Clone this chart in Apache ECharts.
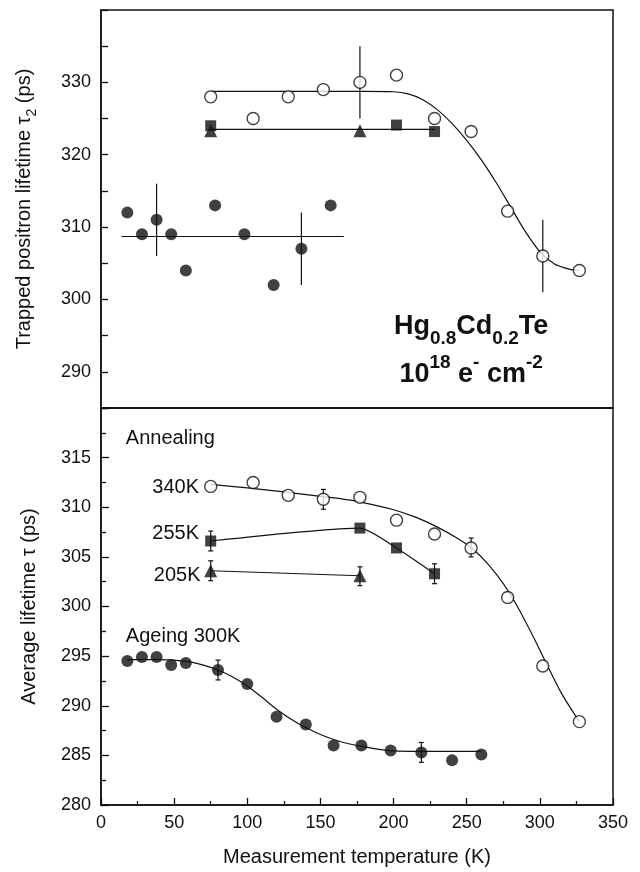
<!DOCTYPE html>
<html>
<head>
<meta charset="utf-8">
<script src="https://cdn.jsdelivr.net/npm/echarts@6/dist/echarts.min.js"></script>
<style>
  html, body { margin: 0; padding: 0; background: #ffffff; }
  #chart { width: 640px; height: 872px; }
</style>
</head>
<body>
<div id="chart"></div>
<script>
// ---- Upper panel: trapped positron lifetime tau2 (ps) ----
const tempAnneal340 = [75, 104, 128, 152, 177, 202, 228, 253, 278, 302, 327];
const tau2Anneal340 = [328.0, 325.0, 328.0, 329.0, 330.0, 331.0, 325.0, 323.2, 312.2, 306.0, 304.0];
const tempTau2Anneal255 = [75, 202, 228];
const tau2Anneal255 = [324.0, 324.1, 323.2];
const tempTau2Anneal205 = [75, 177];
const tau2Anneal205 = [323.3, 323.3];
const tempTau2Ageing = [18, 28, 38, 48, 58, 78, 98, 118, 137, 157];
const tau2Ageing = [312.0, 309.0, 311.0, 309.0, 304.0, 313.0, 309.0, 302.0, 307.0, 313.0];

// fitted guide lines, upper panel
const tau2Fit340Temp = [75, 110, 145, 180, 200, 210, 220, 230, 240, 250, 260, 270, 280, 290, 300, 310, 320, 327];
const tau2Fit340 = [328.75, 328.75, 328.75, 328.75, 328.7, 328.4, 327.6, 326.2, 324.3, 322.0, 319.3, 316.2, 312.8, 309.4, 306.6, 304.9, 304.2, 304.0];
const tau2FitAnnealTemp = [75, 228];
const tau2FitAnneal = [323.5, 323.5];
const tau2FitAgeingTemp = [14, 166];
const tau2FitAgeing = [308.7, 308.7];

// error bars, upper panel
const tau2ErrTemp = [177, 302, 38, 137];
const tau2ErrLow = [325, 301, 306, 302];
const tau2ErrHigh = [335, 311, 316, 312];

// ---- Lower panel: average lifetime tau (ps) ----
const avgAnneal340 = [312.1, 312.5, 311.2, 310.8, 311.0, 308.7, 307.3, 305.9, 300.9, 294.0, 288.4];
const tempAvgAnneal255 = [75, 177, 202, 228];
const avgAnneal255 = [306.6, 307.9, 305.9, 303.3];
const tempAvgAnneal205 = [75, 177];
const avgAnneal205 = [303.6, 303.1];
const tempAvgAgeing = [18, 28, 38, 48, 58, 80, 100, 120, 140, 159, 178, 198, 219, 240, 260];
const avgAgeing = [294.5, 294.9, 294.9, 294.1, 294.3, 293.6, 292.2, 288.9, 288.1, 286.0, 286.0, 285.5, 285.3, 284.5, 285.1];

// fitted guide curves, lower panel
const avgFit340Temp = [75, 100, 125, 150, 175, 200, 215, 230, 245, 255, 265, 275, 285, 295, 305, 315, 327];
const avgFit340 = [312.3, 311.95, 311.55, 311.1, 310.6, 309.75, 309.0, 308.0, 306.75, 305.7, 304.2, 302.3, 299.9, 297.1, 294.1, 291.2, 288.4];
const avgFitAgeingTemp = [18, 40, 60, 70, 80, 90, 100, 110, 120, 130, 140, 150, 160, 170, 180, 190, 200, 215, 260];
const avgFitAgeing = [294.65, 294.65, 294.45, 294.1, 293.6, 292.9, 292.0, 290.85, 289.65, 288.65, 287.8, 287.1, 286.55, 286.15, 285.85, 285.6, 285.45, 285.4, 285.4];

// error bars, lower panel
const avgErrTemp = [152, 253, 75, 228, 75, 177, 80, 219];
const avgErrLow = [309.8, 305.0, 305.6, 302.3, 302.6, 302.1, 292.6, 284.3];
const avgErrHigh = [311.8, 306.9, 307.6, 304.3, 304.6, 304.0, 294.6, 286.3];

// axis tick steps
const xTickStep = 50;
const tau2TickStep = 5;
const avgTickStep = 5;

const FONT = '"Liberation Sans", Arial, Helvetica, sans-serif';
const INK = '#111';

function pairs(xs, ys) { return xs.map((x, i) => [x, ys[i]]); }
function triples(xs, lo, hi) { return xs.map((x, i) => [x, lo[i], hi[i]]); }

function fitLine(idx, xs, ys, smooth) {
  return {
    type: 'line', xAxisIndex: idx, yAxisIndex: idx, data: pairs(xs, ys),
    smooth: smooth, showSymbol: false, symbol: 'none',
    lineStyle: { color: INK, width: 1.2 }, z: 2, silent: true
  };
}

function markers(idx, xs, ys, symbol, size, open) {
  return {
    type: 'scatter', xAxisIndex: idx, yAxisIndex: idx, data: pairs(xs, ys),
    symbol: symbol, symbolSize: size, z: 5, silent: true,
    itemStyle: open
      ? { color: '#fff', borderColor: INK, borderWidth: 1.4 }
      : { color: INK, borderColor: INK, borderWidth: 0 }
  };
}

function errorBars(idx, data, cap) {
  return {
    type: 'custom', xAxisIndex: idx, yAxisIndex: idx, data: data, z: 3, silent: true,
    encode: { x: 0, y: [1, 2] },
    renderItem: function (params, api) {
      const x = api.value(0);
      const lo = api.coord([x, api.value(1)]);
      const hi = api.coord([x, api.value(2)]);
      const style = { stroke: INK, lineWidth: 1.2 };
      const children = [{ type: 'line', shape: { x1: lo[0], y1: lo[1], x2: hi[0], y2: hi[1] }, style: style }];
      if (cap > 0) {
        children.push({ type: 'line', shape: { x1: lo[0] - cap, y1: lo[1], x2: lo[0] + cap, y2: lo[1] }, style: style });
        children.push({ type: 'line', shape: { x1: hi[0] - cap, y1: hi[1], x2: hi[0] + cap, y2: hi[1] }, style: style });
      }
      return { type: 'group', children: children };
    }
  };
}

const chart = echarts.init(document.getElementById('chart'), null, { renderer: 'canvas' });

const axisLineStyle = { lineStyle: { color: INK, width: 1.5 } };
const labelStyle = { color: INK, fontFamily: FONT, fontSize: 18 };

chart.setOption({
  backgroundColor: '#ffffff',
  animation: false,
  grid: [
    { left: 101, right: 27, top: 10, height: 398, show: true, borderColor: INK, borderWidth: 1.5 },
    { left: 101, right: 27, top: 408, height: 397, show: true, borderColor: INK, borderWidth: 1.5 }
  ],
  xAxis: [
    {
      type: 'value', gridIndex: 0, min: 0, max: 350, interval: xTickStep,
      axisLine: axisLineStyle, axisTick: { show: false }, axisLabel: { show: false },
      splitLine: { show: false }
    },
    {
      type: 'value', gridIndex: 1, min: 0, max: 350, interval: xTickStep,
      axisLine: axisLineStyle,
      axisTick: { inside: true, length: 7, lineStyle: { color: INK, width: 1.3 } },
      minorTick: { show: true, splitNumber: 2, length: 4, lineStyle: { color: INK, width: 1.3 } },
      axisLabel: Object.assign({ margin: 9 }, labelStyle),
      splitLine: { show: false },
      name: 'Measurement temperature (K)', nameLocation: 'middle', nameGap: 42,
      nameTextStyle: { color: INK, fontFamily: FONT, fontSize: 20 }
    }
  ],
  yAxis: [
    {
      type: 'value', gridIndex: 0, min: 285, max: 340, interval: tau2TickStep,
      axisLine: axisLineStyle,
      axisTick: { inside: true, length: 7, lineStyle: { color: INK, width: 1.3 } },
      axisLabel: Object.assign({
        margin: 10,
        formatter: function (v) { return (v % 10 === 0 && v < 340) ? String(v) : ''; }
      }, labelStyle),
      splitLine: { show: false },
      name: '{a|Trapped positron lifetime τ}{s|2}{a| (ps)}',
      nameLocation: 'middle', nameGap: 62,
      nameTextStyle: {
        color: INK, fontFamily: FONT, fontSize: 20,
        rich: {
          a: { fontFamily: FONT, fontSize: 20, color: INK, lineHeight: 30 },
          s: { fontFamily: FONT, fontSize: 14, color: INK, lineHeight: 14, verticalAlign: 'bottom' }
        }
      }
    },
    {
      type: 'value', gridIndex: 1, min: 280, max: 320, interval: avgTickStep,
      axisLine: axisLineStyle,
      axisTick: { inside: true, length: 8, lineStyle: { color: INK, width: 1.3 } },
      minorTick: { show: true, splitNumber: 2, length: 5, lineStyle: { color: INK, width: 1.3 } },
      axisLabel: Object.assign({
        margin: 10,
        formatter: function (v) { return v < 320 ? String(v) : ''; }
      }, labelStyle),
      splitLine: { show: false },
      name: 'Average lifetime τ (ps)',
      nameLocation: 'middle', nameGap: 62,
      nameTextStyle: { color: INK, fontFamily: FONT, fontSize: 20 }
    }
  ],
  series: [
    // upper panel
    fitLine(0, tau2Fit340Temp, tau2Fit340, 0.3),
    fitLine(0, tau2FitAnnealTemp, tau2FitAnneal, false),
    fitLine(0, tau2FitAgeingTemp, tau2FitAgeing, false),
    errorBars(0, triples(tau2ErrTemp, tau2ErrLow, tau2ErrHigh), 0),
    markers(0, tempAnneal340, tau2Anneal340, 'circle', 12, true),
    markers(0, tempTau2Anneal255, tau2Anneal255, 'rect', 11, false),
    markers(0, tempTau2Anneal205, tau2Anneal205, 'triangle', 13, false),
    markers(0, tempTau2Ageing, tau2Ageing, 'circle', 12, false),
    // lower panel
    fitLine(1, avgFit340Temp, avgFit340, 0.3),
    fitLine(1, tempAvgAnneal255, avgAnneal255, 0.2),
    fitLine(1, tempAvgAnneal205, avgAnneal205, false),
    fitLine(1, avgFitAgeingTemp, avgFitAgeing, 0.3),
    errorBars(1, triples(avgErrTemp, avgErrLow, avgErrHigh), 2.5),
    markers(1, tempAnneal340, avgAnneal340, 'circle', 12, true),
    markers(1, tempAvgAnneal255, avgAnneal255, 'rect', 11, false),
    markers(1, tempAvgAnneal205, avgAnneal205, 'triangle', 13, false),
    markers(1, tempAvgAgeing, avgAgeing, 'circle', 12, false)
  ]
});

// text annotations placed in data coordinates of each panel
function at(idx, x, y) {
  return chart.convertToPixel({ xAxisIndex: idx, yAxisIndex: idx }, [x, y]);
}
function plainText(idx, x, y, text, align) {
  const p = at(idx, x, y);
  return {
    type: 'text', x: p[0], y: p[1], silent: true,
    style: { text: text, fill: INK, font: '20px ' + FONT, align: align, textAlign: align, verticalAlign: 'middle', textVerticalAlign: 'middle' }
  };
}
function richText(idx, x, y, text) {
  const p = at(idx, x, y);
  const bold = { fontFamily: FONT, fontSize: 27, fontWeight: 'bold', fill: INK, color: INK, lineHeight: 42 };
  return {
    type: 'text', x: p[0], y: p[1], silent: true,
    style: {
      text: text, fill: INK, align: 'center', textAlign: 'center', verticalAlign: 'middle', textVerticalAlign: 'middle',
      fontFamily: FONT, fontSize: 27, fontWeight: 'bold',
      rich: {
        b: bold,
        sub: { fontFamily: FONT, fontSize: 19, fontWeight: 'bold', fill: INK, color: INK, lineHeight: 18, verticalAlign: 'bottom' },
        sup: { fontFamily: FONT, fontSize: 19, fontWeight: 'bold', fill: INK, color: INK, lineHeight: 30, verticalAlign: 'top' }
      }
    }
  };
}

chart.setOption({
  graphic: [
    richText(0, 253, 296.2, '{b|Hg}{sub|0.8}{b|Cd}{sub|0.2}{b|Te}'),
    richText(0, 253, 289.6, '{b|10}{sup|18}{b| e}{sup|-}{b| cm}{sup|-2}'),
    plainText(1, 17, 316.9, 'Annealing', 'left'),
    plainText(1, 67, 312.0, '340K', 'right'),
    plainText(1, 67, 307.4, '255K', 'right'),
    plainText(1, 68, 303.1, '205K', 'right'),
    plainText(1, 17, 297.0, 'Ageing 300K', 'left')
  ]
});
</script>
</body>
</html>
